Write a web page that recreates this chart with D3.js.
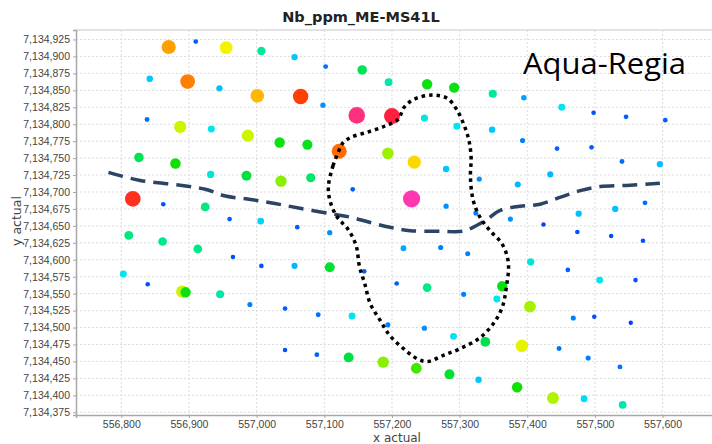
<!DOCTYPE html>
<html>
<head>
<meta charset="utf-8">
<script src="https://cdn.jsdelivr.net/npm/d3@7"></script>
<style>
  body { margin: 0; background: #fff; }
</style>
</head>
<body>
<div id="chart"></div>
<script>
// sample locations (easting / northing) and Nb ppm
const sampleX = [556870, 556910, 556955, 557007, 557056, 557102, 557156, 556842, 556898, 556945,
  557001, 557065, 557098, 557148, 556838, 556887, 556933, 556987, 557034, 557075,
  557122, 557195, 557252, 557292, 557349, 557395, 557451, 557498, 557546, 557604,
  557200, 557248, 557296, 557348, 557393, 557444, 557495, 557194, 556826, 556880,
  556932, 556985, 557036, 557080, 557142, 556817, 556862, 556924, 556960, 557006,
  557060, 557108, 556811, 556861, 556913, 556965, 557007, 557056, 557108, 556803,
  556839, 556890, 556895, 557233, 557280, 557540, 557596, 557329, 557386, 557434,
  557229, 557280, 557375, 557324, 557476, 557530, 557574, 557424, 557474, 557524,
  557571, 557217, 557272, 557312, 557405, 557159, 557460, 557507, 557560, 557207,
  557252, 557363, 556946, 556990, 557042, 557091, 557141, 557306, 557355, 557404,
  557194, 557248, 557291, 557338, 557392, 557447, 557468, 557499, 557553, 557490,
  557537, 557042, 557089, 557136, 557187, 557236, 557285, 557328, 557385, 557438,
  557484, 557541];
const sampleY = [7134914, 7134922, 7134913, 7134908, 7134899, 7134885, 7134880, 7134867, 7134863, 7134853,
  7134842, 7134841, 7134828, 7134813, 7134807, 7134796, 7134793, 7134783, 7134773, 7134770,
  7134760, 7134862, 7134859, 7134854, 7134845, 7134839, 7134825, 7134817, 7134811, 7134806,
  7134812, 7134809, 7134797, 7134792, 7134776, 7134764, 7134766, 7134757, 7134751, 7134742,
  7134726, 7134724, 7134716, 7134721, 7134704, 7134690, 7134682, 7134678, 7134660, 7134657,
  7134648, 7134640, 7134636, 7134627, 7134616, 7134604, 7134591, 7134591, 7134589, 7134579,
  7134564, 7134553, 7134552, 7134744, 7134734, 7134745, 7134741, 7134719, 7134711, 7134726,
  7134690, 7134679, 7134660, 7134669, 7134668, 7134675, 7134684, 7134652, 7134641, 7134635,
  7134628, 7134617, 7134618, 7134609, 7134597, 7134583, 7134585, 7134570, 7134570, 7134565,
  7134559, 7134561, 7134549, 7134534, 7134528, 7134519, 7134517, 7134549, 7134542, 7134531,
  7134504, 7134499, 7134487, 7134479, 7134473, 7134469, 7134514, 7134516, 7134507, 7134455,
  7134442, 7134467, 7134460, 7134456, 7134449, 7134440, 7134431, 7134423, 7134412, 7134396,
  7134395, 7134386];
const nbPpm = [0.75, 0.12, 0.65, 0.33, 0.22, 0.13, 0.40, 0.22, 0.80, 0.21,
  0.72, 0.86, 0.15, 0.95, 0.13, 0.60, 0.25, 0.60, 0.45, 0.44,
  0.82, 0.30, 0.45, 0.45, 0.32, 0.17, 0.25, 0.11, 0.12, 0.12,
  0.90, 0.26, 0.25, 0.22, 0.14, 0.12, 0.12, 0.55, 0.40, 0.46,
  0.27, 0.42, 0.53, 0.38, 0.12, 0.88, 0.11, 0.36, 0.12, 0.23,
  0.12, 0.15, 0.36, 0.35, 0.35, 0.11, 0.11, 0.20, 0.43, 0.25,
  0.11, 0.60, 0.45, 0.68, 0.22, 0.13, 0.21, 0.15, 0.20, 0.20,
  1.00, 0.15, 0.15, 0.14, 0.21, 0.21, 0.13, 0.10, 0.11, 0.11,
  0.11, 0.18, 0.14, 0.14, 0.27, 0.12, 0.12, 0.25, 0.11, 0.12,
  0.35, 0.45, 0.31, 0.14, 0.12, 0.13, 0.25, 0.14, 0.25, 0.56,
  0.14, 0.15, 0.25, 0.41, 0.63, 0.13, 0.14, 0.11, 0.10, 0.14,
  0.13, 0.11, 0.12, 0.42, 0.53, 0.49, 0.43, 0.22, 0.46, 0.57,
  0.24, 0.30];

// dashed boundary across the grid
const dashX = [556781, 556828, 556887, 556924, 556954, 556991, 557027, 557064, 557109, 557138,
  557168, 557197, 557227, 557271, 557304, 557316, 557338, 557360, 557389, 557419,
  557448, 557478, 557508, 557552, 557596];
const dashY = [7134729, 7134717, 7134710, 7134704, 7134694, 7134689, 7134683, 7134676, 7134668, 7134663,
  7134655, 7134648, 7134643, 7134642, 7134642, 7134646, 7134658, 7134673, 7134679, 7134682,
  7134692, 7134702, 7134708, 7134710, 7134713];

// dotted closed outline
const loopX = [557124, 557113, 557106, 557109, 557119, 557135, 557147, 557152, 557160, 557168,
  557183, 557197, 557217, 557239, 557253, 557276, 557301, 557330, 557350, 557363,
  557369, 557372, 557363, 557345, 557330, 557320, 557316, 557317, 557314, 557308,
  557296, 557282, 557261, 557233, 557218, 557209, 557189, 557163, 557140, 557128];
const loopY = [7134766, 7134739, 7134707, 7134685, 7134663, 7134645, 7134621, 7134590, 7134564, 7134535,
  7134510, 7134488, 7134469, 7134453, 7134450, 7134459, 7134469, 7134485, 7134506, 7134530,
  7134559, 7134596, 7134623, 7134643, 7134663, 7134688, 7134722, 7134751, 7134775, 7134795,
  7134821, 7134838, 7134843, 7134837, 7134825, 7134807, 7134797, 7134788, 7134781, 7134773];

const xTicks = d3.range(556800, 557601, 100);
const yTicks = d3.range(7134375, 7134926, 25);

const width = 712, height = 444;
const plot = {left: 76, top: 30, right: 714, bottom: 415};

const svg = d3.select("#chart")
  .append("svg")
    .attr("width", width)
    .attr("height", height)
    .style("font-family", "'DejaVu Sans', sans-serif");

const x = d3.scaleLinear()
    .domain([556733, 557676])
    .range([plot.left, plot.right]);

const y = d3.scaleLinear()
    .domain([7134371, 7134939])
    .range([plot.bottom, plot.top]);

const color = d3.scaleLinear()
    .domain([0.10, 0.15, 0.22, 0.25, 0.30, 0.36, 0.42, 0.46, 0.53, 0.60, 0.65, 0.70, 0.75, 0.80, 0.86, 0.90, 0.95, 1.00])
    .range(["#0040ff", "#0090ff", "#00c8ff", "#00e5f0", "#00e8b0", "#00e880", "#00e040", "#10e000", "#88f000",
            "#ccf500", "#f5f200", "#ffc800", "#ffa000", "#ff8000", "#ff4000", "#ff2040", "#ff3080", "#ff38b0"])
    .clamp(true);

const radius = d3.scaleLinear()
    .domain([0.10, 0.45, 1.00])
    .range([2.2, 5.2, 8.6]);

// grid
svg.append("g")
  .selectAll("line")
  .data(xTicks)
  .join("line")
    .attr("x1", d => x(d)).attr("x2", d => x(d))
    .attr("y1", plot.top).attr("y2", plot.bottom)
    .attr("stroke", "#dcdcdc")
    .attr("stroke-dasharray", "2,2");

svg.append("g")
  .selectAll("line")
  .data(yTicks)
  .join("line")
    .attr("x1", plot.left).attr("x2", plot.right)
    .attr("y1", d => y(d)).attr("y2", d => y(d))
    .attr("stroke", "#dcdcdc")
    .attr("stroke-dasharray", "2,2");

// top border
svg.append("line")
  .attr("x1", plot.left).attr("x2", plot.right)
  .attr("y1", plot.top).attr("y2", plot.top)
  .attr("stroke", "#c8c8c8");

// axes
const xAxis = g => g
    .attr("transform", `translate(0,${plot.bottom})`)
    .call(d3.axisBottom(x).tickValues(xTicks).tickFormat(d3.format(",")).tickSize(3).tickPadding(3))
    .call(g => g.select(".domain").attr("stroke", "#a8a8a8").attr("stroke-width", 1.5))
    .call(g => g.selectAll(".tick line").attr("stroke", "#a8a8a8"))
    .call(g => g.selectAll(".tick text").attr("fill", "#444").attr("font-size", 10.5));

const yAxis = g => g
    .attr("transform", `translate(${plot.left},0)`)
    .call(d3.axisLeft(y).tickValues(yTicks).tickFormat(d3.format(",")).tickSize(3).tickPadding(3))
    .call(g => g.select(".domain").attr("stroke", "#a8a8a8").attr("stroke-width", 1.5))
    .call(g => g.selectAll(".tick line").attr("stroke", "#a8a8a8"))
    .call(g => g.selectAll(".tick text").attr("fill", "#444").attr("font-size", 10.5));

svg.append("g").call(xAxis);
svg.append("g").call(yAxis);

// samples
const samples = sampleX.map((d, i) => ({x: d, y: sampleY[i], nb: nbPpm[i]}));

svg.append("g")
  .selectAll("circle")
  .data(samples)
  .join("circle")
    .attr("cx", d => x(d.x))
    .attr("cy", d => y(d.y))
    .attr("r", d => radius(d.nb))
    .attr("fill", d => color(d.nb));

// dashed line
const dashPts = dashX.map((d, i) => [d, dashY[i]]);
svg.append("path")
  .datum(dashPts)
  .attr("d", d3.line().x(d => x(d[0])).y(d => y(d[1])).curve(d3.curveCatmullRom))
  .attr("fill", "none")
  .attr("stroke", "#2b4364")
  .attr("stroke-width", 3.5)
  .attr("stroke-dasharray", "15,8");

// dotted outline
const loopPts = loopX.map((d, i) => [d, loopY[i]]);
svg.append("path")
  .datum(loopPts)
  .attr("d", d3.line().x(d => x(d[0])).y(d => y(d[1])).curve(d3.curveCatmullRomClosed))
  .attr("fill", "none")
  .attr("stroke", "#000")
  .attr("stroke-width", 3.5)
  .attr("stroke-dasharray", "3.5,4");

// titles
svg.append("text")
  .attr("x", 361)
  .attr("y", 22)
  .attr("text-anchor", "middle")
  .attr("font-size", 14.5)
  .attr("font-weight", "bold")
  .attr("fill", "#222")
  .text("Nb_ppm_ME-MS41L");

svg.append("text")
  .attr("x", 397)
  .attr("y", 442)
  .attr("text-anchor", "middle")
  .attr("font-size", 12)
  .attr("fill", "#444")
  .text("x actual");

svg.append("text")
  .attr("transform", "translate(21,221) rotate(-90)")
  .attr("text-anchor", "middle")
  .attr("font-size", 12.5)
  .attr("fill", "#444")
  .text("y actual");

svg.append("text")
  .attr("x", 523)
  .attr("y", 74)
  .attr("font-family", "'Open Sans', sans-serif")
  .attr("font-size", 30)
  .attr("fill", "#000")
  .attr("textLength", 163)
  .attr("lengthAdjust", "spacingAndGlyphs")
  .text("Aqua-Regia");
</script>
</body>
</html>
